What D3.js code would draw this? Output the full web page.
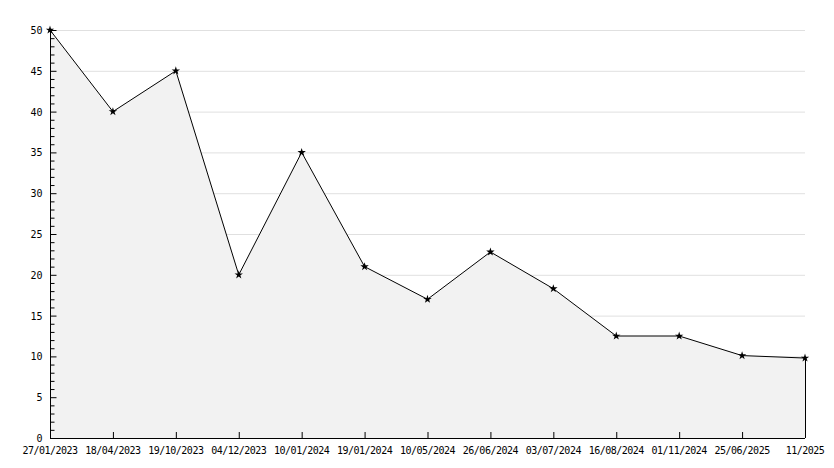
<!DOCTYPE html>
<html><head><meta charset="utf-8">
<script src="https://cdn.jsdelivr.net/npm/d3@7"></script>
<style>body{margin:0;background:#fff}text{font-family:"DejaVu Sans Mono",monospace;font-size:10px;fill:#000}</style>
</head><body>
<script>
var labels = ["27/01/2023","18/04/2023","19/10/2023","04/12/2023","10/01/2024","19/01/2024","10/05/2024","26/06/2024","03/07/2024","16/08/2024","01/11/2024","25/06/2025","11/2025"];
var values = [50, 40, 45, 20, 35, 21, 17, 22.8, 18.3, 12.5, 12.5, 10.1, 9.8];
var yTicks = [0,5,10,15,20,25,30,35,40,45,50];

var w = 834, h = 468;
var pLeft = 50, pRight = 805, pTop = 30, pBottom = 438;
var svg = d3.select("body").append("svg").attr("width", w).attr("height", h);

var x = d3.scalePoint().domain(d3.range(labels.length)).range([pLeft, pRight]);
var y = d3.scaleLinear().domain([0, 50]).range([pBottom, pTop]);

// grid
svg.append("g").selectAll("line").data(yTicks.slice(1)).enter().append("line")
    .attr("x1", pLeft).attr("x2", pRight).attr("y1", d => y(d) + 0.5).attr("y2", d => y(d) + 0.5)
    .attr("stroke", "#e0e0e0");

var area = d3.area().x((d, i) => x(i)).y0(pBottom).y1(d => y(d));
svg.append("path").datum(values).attr("d", area).attr("fill", "#f2f2f2");

var line = d3.line().x((d, i) => x(i)).y(d => y(d));
svg.append("path").datum(values).attr("d", line).attr("fill", "none").attr("stroke", "#000").attr("stroke-width", 1);
svg.append("line").attr("x1", pRight + 0.5).attr("x2", pRight + 0.5).attr("y1", y(values[values.length-1])).attr("y2", pBottom).attr("stroke", "#000");

svg.append("g").selectAll("path").data(values).enter().append("path")
    .attr("d", d3.symbol().type(d3.symbolStar).size(22))
    .attr("transform", (d, i) => "translate(" + x(i) + "," + y(d) + ")")
    .attr("fill", "#000");

// y axis
var ya = svg.append("g").attr("transform", "translate(" + (pLeft + 0.5) + ",0)");
ya.append("line").attr("y1", pTop).attr("y2", pBottom).attr("stroke", "#000");
ya.selectAll("line.minor").data(d3.range(0, 51)).enter().append("line")
    .attr("x1", 0).attr("x2", d => d % 5 ? 4 : 6).attr("y1", d => y(d) + 0.5).attr("y2", d => y(d) + 0.5).attr("stroke", "#000");
ya.selectAll("text").data(yTicks).enter().append("text")
    .attr("x", -8).attr("y", d => y(d) + 4).attr("text-anchor", "end").text(d => d);

// x axis
var xa = svg.append("g");
xa.append("line").attr("x1", pLeft).attr("x2", pRight).attr("y1", pBottom + 0.5).attr("y2", pBottom + 0.5).attr("stroke", "#000");
xa.selectAll("line.t").data(labels).enter().append("line")
    .attr("x1", (d, i) => x(i) + 0.5).attr("x2", (d, i) => x(i) + 0.5).attr("y1", pBottom).attr("y2", pBottom - 6).attr("stroke", "#000");
xa.selectAll("text").data(labels).enter().append("text")
    .attr("x", (d, i) => x(i)).attr("y", pBottom + 16).attr("text-anchor", "middle").attr("letter-spacing", "-0.5").text(d => d);
</script>
</body></html>
